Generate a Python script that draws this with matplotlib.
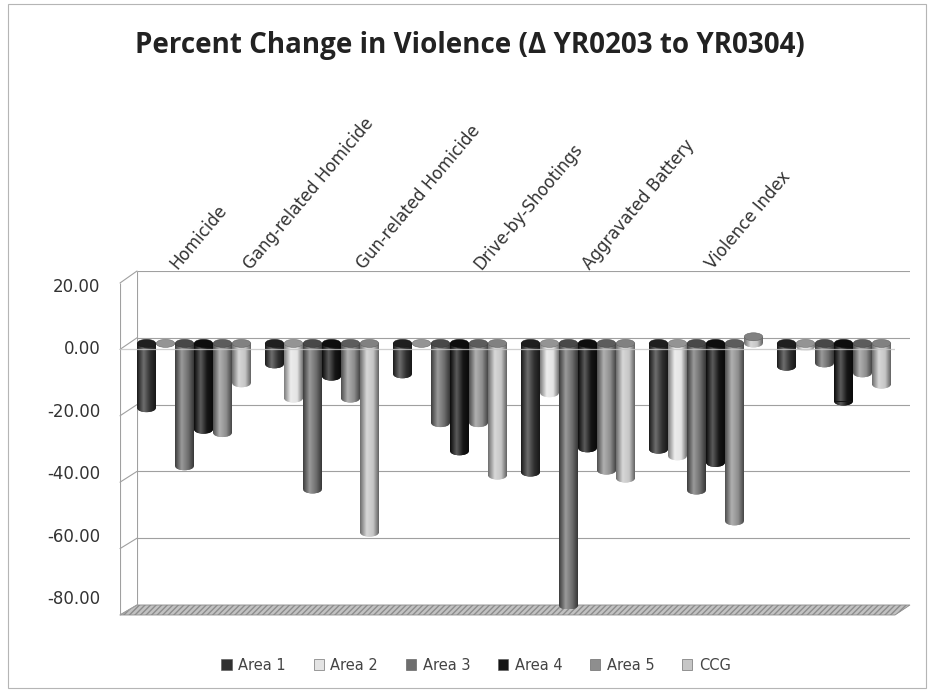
import numpy as np
import matplotlib
matplotlib.use("Agg")
import matplotlib.pyplot as plt
from matplotlib.patches import Ellipse, Polygon, Rectangle, Patch, ConnectionPatch
from matplotlib.colors import LinearSegmentedColormap, to_rgb

# ---- data -------------------------------------------------------------
categories = ["Homicide", "Gang-related Homicide", "Gun-related Homicide",
              "Drive-by-Shootings", "Aggravated Battery", "Violence Index"]
series_names = ["Area 1", "Area 2", "Area 3", "Area 4", "Area 5", "CCG"]
area1 = [-19.5, -6.3, -9.3, -38.9, -32.0, -7.0]
area2 = [0.0, -16.6, 0.0, -15.0, -34.0, -1.0]
area3 = [-37.0, -44.0, -24.0, -79.0, -44.3, -6.0]
area4 = [-26.0, -10.0, -32.5, -31.6, -36.0, -17.5]
area5 = [-27.0, -16.6, -24.0, -38.3, -53.6, -9.0]
ccg = [-12.0, -57.0, -39.8, -40.7, 2.0, -12.4]
y_ticks = [20, 0, -20, -40, -60, -80]
y_tick_labels = ["20.00", "0.00", "-20.00", "-40.00", "-60.00", "-80.00"]
title = "Percent Change in Violence (\u0394 YR0203 to YR0304)"

series = [area1, area2, area3, area4, area5, ccg]
colors = ["#303030", "#e4e4e4", "#6e6e6e", "#151515", "#8e8e8e", "#c6c6c6"]

# ---- figure & planes ---------------------------------------------------
W, H = 937, 692
fig = plt.figure(figsize=(W / 100, H / 100), dpi=100)
fig.patch.set_facecolor("white")


def px_rect(x0, y_top, x1, y_bot):
    return [x0 / W, 1 - y_bot / H, (x1 - x0) / W, (y_bot - y_top) / H]


YMIN, YMAX = -80, 20

# back wall (gridlines), bar plane, front edge, tick-label axis
back = fig.add_axes(px_rect(137, 271, 910, 605), zorder=0)
ax = fig.add_axes(px_rect(128, 277, 903, 609), zorder=1)
front = fig.add_axes(px_rect(120, 283, 895, 615), zorder=2)
lab = fig.add_axes(px_rect(120, 285, 895, 597), zorder=0)

for a in (back, ax, front, lab):
    a.set_ylim(YMIN, YMAX)
    a.patch.set_alpha(0)
    for s in a.spines.values():
        s.set_visible(False)
    a.set_xticks([])
    a.set_yticks([])
back.set_xlim(0, 1)
front.set_xlim(0, 1)

grid_col = "#a0a0a0"
back.hlines(y_ticks, 0, 1, color=grid_col, lw=0.8, zorder=1)
back.vlines(0, YMIN, YMAX, color=grid_col, lw=0.8)
front.vlines(0, YMIN, YMAX, color=grid_col, lw=0.8)
for v in y_ticks:
    fig.add_artist(ConnectionPatch(xyA=(0, v), coordsA=front.transData,
                                   xyB=(0, v), coordsB=back.transData,
                                   color=grid_col, lw=0.8))
# zero plane edge in front of the columns
front.axhline(0, color="#c4c4c4", lw=0.9, alpha=0.8)

# floor slab at the axis minimum
corners = [back.transData.transform((0, YMIN)), back.transData.transform((1, YMIN)),
           front.transData.transform((1, YMIN)), front.transData.transform((0, YMIN))]
corners = fig.transFigure.inverted().transform(np.array(corners))
floor = Polygon(corners, closed=True, transform=fig.transFigure,
                facecolor="#c2c2c2", edgecolor="#8c8c8c", hatch="//////",
                lw=0.6, clip_on=False)
back.add_patch(floor)

# tick labels
lab.set_yticks(y_ticks, y_tick_labels)
lab.tick_params(axis="y", length=0, pad=14, labelsize=12, labelcolor="#333333")

# ---- cylinders ---------------------------------------------------------
x = np.arange(len(categories))
slot = 19 / 128
bw = 0.145
cap_h = 2.4          # cap ellipse height in value units
grad = np.linspace(0, 1, 64).reshape(1, -1)


def shade(c, f):
    r, g, b = to_rgb(c)
    if f < 0:
        return (r * (1 + f), g * (1 + f), b * (1 + f))
    return (r + (1 - r) * f, g + (1 - g) * f, b + (1 - b) * f)


for j, (vals, col) in enumerate(zip(series, colors)):
    cmap = LinearSegmentedColormap.from_list(
        f"cyl{j}", [(0, shade(col, -0.45)), (0.35, shade(col, 0.3)),
                    (0.7, col), (1, shade(col, -0.5))])
    xs = x + (j - 2.5) * slot
    rects = ax.bar(xs, vals, width=bw, color=col, zorder=3, lw=0)
    for r, v in zip(rects, vals):
        x0 = r.get_x()
        x1 = x0 + r.get_width()
        xc = (x0 + x1) / 2
        lo, hi = min(0, v), max(0, v)
        bottom = Ellipse((xc, lo), bw, cap_h, facecolor=col, lw=0, zorder=2.9)
        ax.add_patch(bottom)
        for clip in (r, bottom):
            im = ax.imshow(grad, cmap=cmap, extent=[x0, x1, lo - cap_h, hi],
                           aspect="auto", zorder=clip.get_zorder() + 0.05,
                           interpolation="bilinear")
            im.set_clip_path(clip)
        ax.add_patch(Ellipse((xc, hi), bw, cap_h, facecolor=shade(col, -0.35),
                             edgecolor=shade(col, -0.5), lw=0.4, zorder=3.3))

ax.set_xlim(-66 / 128, 709 / 128)
ax.set_ylim(YMIN, YMAX)

# category labels: rotated text centred over evenly spaced label slots
label_x0, label_step, label_base = 209, 110, 270
renderer = fig.canvas.get_renderer()
for i, name in enumerate(categories):
    t = fig.text(0, 1 - label_base / H, name, rotation=50, rotation_mode="anchor",
                 ha="left", va="baseline", fontsize=12, color="#333333")
    w = t.get_window_extent(renderer).width
    cx = label_x0 + label_step * i
    t.set_x((cx - w / 2) / W)

# ---- title & legend ----------------------------------------------------
fig.text(470 / W, 1 - 45 / H, title, ha="center", va="center",
         fontsize=20, fontweight="bold", family="Open Sans", color="#222222")

handles = [Patch(facecolor=c, edgecolor="#555555", lw=0.4) for c in colors]
fig.legend(handles, series_names, loc="center", bbox_to_anchor=(476 / W, 1 - 665 / H),
           ncol=6, frameon=False, fontsize=10.5, handlelength=0.7, handleheight=0.7,
           handletextpad=0.45, columnspacing=1.9, labelcolor="#444444")

# chart border
fig.add_artist(Rectangle((8 / W, 4 / H), 918 / W, 684 / H, transform=fig.transFigure,
                         fill=False, edgecolor="#b5b5b5", lw=0.8))

fig.savefig("out.png", dpi=100)
